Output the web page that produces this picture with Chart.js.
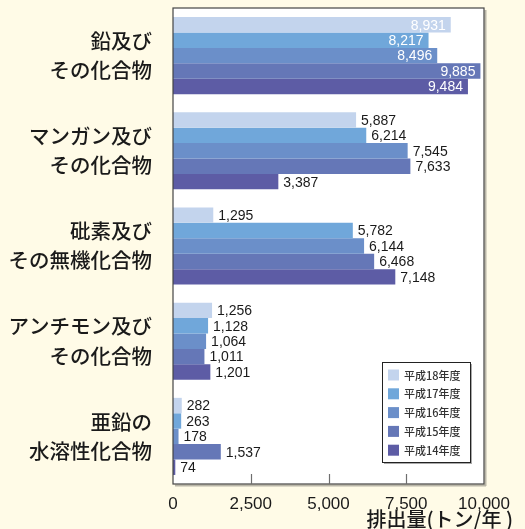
<!DOCTYPE html>
<html lang="ja">
<head>
<meta charset="utf-8">
<script src="https://cdn.jsdelivr.net/npm/chart.js@4/dist/chart.umd.min.js"></script>
<style>
  html, body { margin: 0; padding: 0; background: #fffbe7; }
  #wrap { width: 525px; height: 529px; }
</style>
</head>
<body>
<div id="wrap"><canvas id="c" width="525" height="529"></canvas></div>
<script>
// 物質名（2行表示）
const categories = [
  ['鉛及び', 'その化合物'],
  ['マンガン及び', 'その化合物'],
  ['砒素及び', 'その無機化合物'],
  ['アンチモン及び', 'その化合物'],
  ['亜鉛の', '水溶性化合物']
];
const years = ['平成18年度', '平成17年度', '平成16年度', '平成15年度', '平成14年度'];
// 排出量（トン/年）
const h18 = [8931, 5887, 1295, 1256, 282];
const h17 = [8217, 6214, 5782, 1128, 263];
const h16 = [8496, 7545, 6144, 1064, 178];
const h15 = [9885, 7633, 6468, 1011, 1537];
const h14 = [9484, 3387, 7148, 1201, 74];
const xTicks = [0, 2500, 5000, 7500, 10000];
const colors = ['#c3d4ed', '#70a7da', '#6b8fc9', '#6577b7', '#5d5ca5'];

const series = [h18, h17, h16, h15, h14];
const fmt = v => v.toLocaleString('en-US');
const LATIN = '"Liberation Sans", Arial, sans-serif';
const CJK = '"Noto Sans CJK JP", "Noto Sans", sans-serif';

// 枠・目盛り・値ラベル・凡例・軸タイトル
const decorations = {
  id: 'decorations',
  beforeDatasetsDraw(chart) {
    const { ctx, chartArea: a } = chart;
    ctx.save();
    ctx.fillStyle = '#ffffff';
    ctx.fillRect(a.left, a.top, a.right - a.left, a.bottom - a.top);
    ctx.restore();
  },
  afterDatasetsDraw(chart) {
    const { ctx, chartArea: a, scales } = chart;
    ctx.save();
    // 影
    ctx.fillStyle = '#b9b6a8';
    ctx.fillRect(a.right + 0.5, a.top + 2, 2, a.bottom - a.top);
    ctx.fillRect(a.left + 2, a.bottom + 0.5, a.right - a.left, 2);
    // 枠
    ctx.strokeStyle = '#444444';
    ctx.lineWidth = 1.2;
    ctx.strokeRect(a.left, a.top, a.right - a.left, a.bottom - a.top);
    // 内向き目盛り
    ctx.strokeStyle = '#6e6e6e';
    ctx.lineWidth = 1.2;
    xTicks.slice(1, -1).forEach(v => {
      const x = Math.round(scales.x.getPixelForValue(v)) + 0.5;
      ctx.beginPath();
      ctx.moveTo(x, a.bottom);
      ctx.lineTo(x, a.bottom - 10);
      ctx.stroke();
    });
    // 値ラベル
    ctx.font = '14px ' + LATIN;
    ctx.textBaseline = 'middle';
    chart.data.datasets.forEach((ds, di) => {
      const meta = chart.getDatasetMeta(di);
      meta.data.forEach((bar, i) => {
        const v = ds.data[i];
        if (i === 0) {
          ctx.fillStyle = '#ffffff';
          ctx.textAlign = 'right';
          ctx.fillText(fmt(v), bar.x - 5, bar.y + 1);
        } else {
          ctx.fillStyle = '#1a1a1a';
          ctx.textAlign = 'left';
          ctx.fillText(fmt(v), bar.x + 5, bar.y + 1);
        }
      });
    });
    // 凡例
    const lx = 382, ly = 362, lw = 88, lh = 100;
    ctx.fillStyle = '#a9a9a9';
    ctx.fillRect(lx + 2, ly + 2, lw, lh);
    ctx.fillStyle = '#ffffff';
    ctx.fillRect(lx, ly, lw, lh);
    ctx.strokeStyle = '#222222';
    ctx.lineWidth = 1;
    ctx.strokeRect(lx + 0.5, ly + 0.5, lw, lh);
    ctx.font = '500 11px ' + CJK;
    ctx.textAlign = 'left';
    ctx.textBaseline = 'middle';
    chart.data.datasets.forEach((ds, di) => {
      const y = 375 + di * 18.8;
      ctx.fillStyle = ds.backgroundColor;
      ctx.fillRect(388, y - 5.5, 11, 11);
      ctx.fillStyle = '#333333';
      ctx.fillText(ds.label, 404, y + 0.5);
    });
    // 軸タイトル
    ctx.font = '500 20px ' + CJK;
    ctx.fillStyle = '#1a1a1a';
    ctx.textAlign = 'right';
    ctx.textBaseline = 'middle';
    ctx.fillText('排出量(トン/年 )', 513, 519);
    ctx.restore();
  }
};

new Chart(document.getElementById('c'), {
  type: 'bar',
  data: {
    labels: categories,
    datasets: series.map((d, i) => ({
      label: years[i],
      data: d,
      backgroundColor: colors[i],
      borderWidth: 0,
      categoryPercentage: 0.81,
      barPercentage: 1.0
    }))
  },
  options: {
    indexAxis: 'y',
    responsive: false,
    animation: false,
    layout: { padding: { top: 8, right: 41, bottom: 0, left: 0 } },
    plugins: { legend: { display: false }, tooltip: { enabled: false } },
    scales: {
      x: {
        min: 0,
        max: 10000,
        afterBuildTicks(scale) { scale.ticks = xTicks.map(v => ({ value: v })); },
        afterFit(scale) { scale.height = 45; scale.paddingLeft = 0; scale.paddingRight = 0; },
        grid: { display: false },
        border: { display: false },
        ticks: {
          padding: 2,
          color: '#1a1a1a',
          font: { family: LATIN, size: 17 },
          maxRotation: 0,
          callback: v => fmt(v)
        }
      },
      y: {
        afterFit(scale) { scale.width = 173; scale.paddingTop = 0; scale.paddingBottom = 0; },
        grid: { display: false },
        border: { display: false },
        ticks: {
          padding: 13,
          color: '#1a1a1a',
          font: { family: CJK, size: 20.5, weight: '500', lineHeight: 1.42 }
        }
      }
    }
  },
  plugins: [decorations]
});
</script>
</body>
</html>
